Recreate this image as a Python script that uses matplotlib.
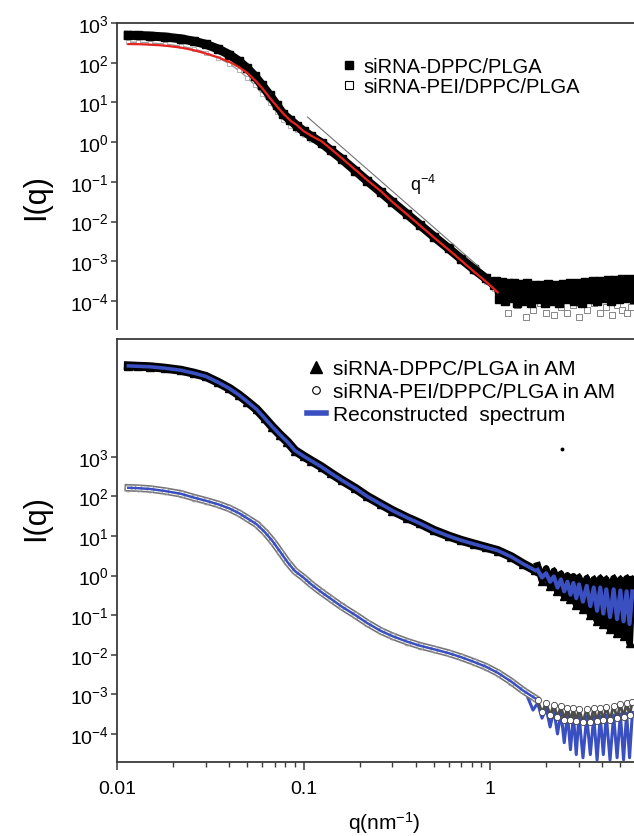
import matplotlib
matplotlib.use("Agg")
import matplotlib.pyplot as plt
from matplotlib.lines import Line2D
from matplotlib.ticker import NullLocator, FixedLocator, LogLocator, NullFormatter

plt.rcParams['font.family'] = ['Liberation Sans', 'DejaVu Sans']
plt.rcParams['mathtext.default'] = 'regular'

# ---- top panel: siRNA-DPPC/PLGA vs siRNA-PEI/DPPC/PLGA ----
q_top = [0.0115, 0.013, 0.015, 0.018, 0.022, 0.026, 0.03, 0.035, 0.04, 0.045,
         0.05, 0.055, 0.06, 0.066, 0.072, 0.078, 0.085, 0.092, 0.1, 0.11,
         0.125, 0.14, 0.16, 0.19, 0.22, 0.26, 0.3, 0.36, 0.42, 0.5,
         0.6, 0.7, 0.82, 0.95, 1.05]
dppc_I = [490, 485, 470, 445, 400, 345, 290, 220, 160, 110,
          72, 45, 27, 15, 8.5, 5.0, 3.6, 2.6, 1.9, 1.4,
          0.95, 0.62, 0.38, 0.19, 0.105, 0.055, 0.031, 0.0152, 0.0083, 0.0042,
          0.0021, 0.00115, 0.00063, 0.00037, 0.00026]
pei_I = [330, 326, 315, 295, 262, 222, 180, 132, 94, 64,
         42, 27, 16.5, 9.5, 5.6, 3.7, 2.6, 2.0, 1.5, 1.15,
         0.8, 0.55, 0.34, 0.17, 0.095, 0.05, 0.028, 0.0138, 0.0076, 0.0038,
         0.0019, 0.00102, 0.00055, 0.0003, 0.0002]
fit_top_q = [0.0115, 0.013, 0.015, 0.018, 0.022, 0.026, 0.03, 0.035, 0.04, 0.045,
             0.05, 0.055, 0.06, 0.066, 0.072, 0.078, 0.085, 0.092, 0.1, 0.11,
             0.125, 0.14, 0.16, 0.19, 0.22, 0.26, 0.3, 0.36, 0.42, 0.5,
             0.6, 0.7, 0.82, 0.95, 1.1]
fit_top_I = [295, 293, 285, 270, 240, 205, 170, 135, 105, 78,
             55, 36, 23, 13, 8, 5.2, 3.5, 2.7, 1.9, 1.45,
             1.05, 0.68, 0.40, 0.20, 0.11, 0.058, 0.031, 0.015, 0.0081, 0.0040,
             0.00195, 0.00105, 0.00055, 0.00031, 0.000165]
# flat background at high q (noisy)
floor_q = [1.08, 1.12, 1.16, 1.2, 1.25, 1.3, 1.35, 1.4, 1.46, 1.52,
           1.58, 1.65, 1.72, 1.8, 1.88, 1.96, 2.05, 2.15, 2.25, 2.35,
           2.46, 2.58, 2.7, 2.83, 2.96, 3.1, 3.25, 3.4, 3.56, 3.73,
           3.9, 4.08, 4.27, 4.47, 4.68, 4.9, 5.13, 5.37, 5.62, 5.88]
floor_dppc_I = [3.2e-4, 1.1e-4, 3.0e-4, 1.0e-4, 2.9e-4, 1.2e-4, 2.8e-4, 0.9e-4, 2.7e-4, 1.0e-4,
                2.8e-4, 0.9e-4, 2.6e-4, 1.1e-4, 2.6e-4, 0.9e-4, 2.7e-4, 1.0e-4, 2.6e-4, 0.9e-4,
                2.7e-4, 1.1e-4, 2.8e-4, 1.0e-4, 2.9e-4, 0.9e-4, 3.0e-4, 1.1e-4, 3.1e-4, 1.0e-4,
                3.2e-4, 1.2e-4, 3.3e-4, 1.0e-4, 3.4e-4, 1.1e-4, 3.5e-4, 1.2e-4, 3.6e-4, 1.1e-4]
floor_pei_q = [1.25, 1.4, 1.55, 1.7, 1.85, 2.0, 2.2, 2.4, 2.6, 2.8,
               3.0, 3.3, 3.6, 3.9, 4.2, 4.5, 4.8, 5.1, 5.4, 5.7]
floor_pei_I = [5e-5, 8e-5, 4e-5, 6e-5, 9e-5, 5e-5, 4.5e-5, 7e-5, 5e-5, 8e-5,
               4e-5, 6e-5, 9e-5, 5e-5, 7e-5, 4.5e-5, 8e-5, 6e-5, 5e-5, 7e-5]
guide_q = [0.105, 0.88]
guide_I = [4.3, 7.0e-4]

# ---- bottom panel: in artificial mucus (AM) ----
q_am = [0.0115, 0.013, 0.015, 0.018, 0.022, 0.026, 0.03, 0.035, 0.04, 0.045,
        0.05, 0.056, 0.062, 0.068, 0.075, 0.082, 0.09, 0.1, 0.11, 0.125,
        0.14, 0.16, 0.19, 0.22, 0.26, 0.3, 0.36, 0.42, 0.5, 0.6,
        0.7, 0.82, 0.95, 1.1, 1.3, 1.5, 1.75]
am_dppc_I = [2.0e5, 1.95e5, 1.9e5, 1.75e5, 1.55e5, 1.3e5, 1.08e5, 7.6e4, 5.4e4, 3.7e4,
             2.5e4, 1.6e4, 9.5e3, 5.8e3, 3.6e3, 2.4e3, 1.45e3, 1.05e3, 800, 560,
             390, 260, 160, 100, 64, 44, 29, 21, 14, 10,
             7.8, 6.3, 5.2, 4.3, 3.0, 2.0, 1.35]
am_pei_I = [166, 162, 155, 138, 117, 93, 78, 63, 50, 38,
            28, 20, 12.6, 7.6, 4.0, 2.2, 1.3, 0.89, 0.6, 0.38,
            0.26, 0.166, 0.1, 0.063, 0.04, 0.0295, 0.0214, 0.017, 0.0138, 0.011,
            0.0087, 0.0066, 0.005, 0.0035, 0.0021, 0.00126, 0.00079]
noise_q = [1.8, 1.9, 2.0, 2.1, 2.2, 2.3, 2.4, 2.5, 2.6, 2.7,
           2.8, 2.9, 3.0, 3.15, 3.3, 3.45, 3.6, 3.75, 3.9, 4.05,
           4.2, 4.4, 4.6, 4.8, 5.0, 5.2, 5.4, 5.6, 5.8]
noise_dppc_I = [1.8, 0.75, 1.5, 0.55, 1.3, 0.4, 1.1, 0.3, 1.0, 0.25,
                0.95, 0.18, 0.9, 0.14, 0.85, 0.1, 0.8, 0.07, 0.85, 0.06,
                0.8, 0.045, 0.85, 0.035, 0.8, 0.03, 0.85, 0.02, 0.8]
noise_dppc_fit = [1.4, 0.9, 1.15, 0.7, 0.95, 0.5, 0.8, 0.4, 0.7, 0.33,
                  0.65, 0.27, 0.6, 0.22, 0.55, 0.17, 0.5, 0.13, 0.5, 0.11,
                  0.45, 0.09, 0.45, 0.08, 0.42, 0.07, 0.4, 0.06, 0.4]
noise_pei_I = [7e-4, 3.5e-4, 6e-4, 3e-4, 5.5e-4, 2.6e-4, 5e-4, 2.3e-4, 4.6e-4, 2.2e-4,
               4.4e-4, 2.1e-4, 4.3e-4, 2e-4, 4.3e-4, 2e-4, 4.4e-4, 2.1e-4, 4.6e-4, 2.2e-4,
               4.8e-4, 2.3e-4, 5.2e-4, 2.5e-4, 5.6e-4, 2.7e-4, 6e-4, 3e-4, 6.5e-4]
noise_fit_q = [1.6, 1.7, 1.8, 1.9, 2.0, 2.1, 2.2, 2.3, 2.4, 2.5,
               2.6, 2.7, 2.8, 2.9, 3.0, 3.15, 3.3, 3.45, 3.6, 3.75,
               3.9, 4.05, 4.2, 4.4, 4.6, 4.8, 5.0, 5.2, 5.4, 5.6, 5.8]
noise_pei_fit = [8e-4, 4e-4, 6e-4, 2.5e-4, 4.5e-4, 1.5e-4, 4e-4, 1e-4, 3.5e-4, 6e-5,
                 3.2e-4, 4e-5, 3e-4, 3e-5, 3e-4, 2.5e-5, 2.8e-4, 3e-5, 2.8e-4, 2.2e-5,
                 2.8e-4, 3e-5, 3e-4, 2.2e-5, 3e-4, 2.5e-5, 3.2e-4, 2.2e-5, 3.3e-4, 2.5e-5, 3.5e-4]
stray_q = [2.43]
stray_I = [1600]

RED = '#e8231f'
BLUE = '#3a4fc0'
SPINE = '#3a3a3a'
XMAX = 10 ** 0.772


def style_axes(ax, ymin, ymax, yticks):
    ax.set_xscale('log')
    ax.set_yscale('log')
    ax.set_xlim(0.01, XMAX)
    ax.set_ylim(ymin, ymax)
    ax.yaxis.set_major_locator(FixedLocator(yticks))
    ax.yaxis.set_minor_locator(NullLocator())
    for side in ['left', 'top', 'bottom']:
        ax.spines[side].set_color(SPINE)
        ax.spines[side].set_linewidth(1.3)
    ax.spines['right'].set_visible(False)
    ax.tick_params(axis='y', which='major', direction='out', length=4, width=1.1,
                   color=SPINE, labelsize=14, pad=2)


fig = plt.figure(figsize=(6.34, 8.37), dpi=100)
W, H = 634.0, 837.0
ax1 = fig.add_axes([117 / W, 1 - 330 / H, 1 - 117 / W, (330 - 24) / H])
ax2 = fig.add_axes([117 / W, 1 - 763 / H, 1 - 117 / W, (763 - 340) / H])

# top panel
style_axes(ax1, 10 ** -4.705, 1e3, [1e-4, 1e-3, 1e-2, 1e-1, 1, 10, 100, 1000])
ax1.spines['bottom'].set_visible(False)
ax1.tick_params(axis='x', which='both', bottom=False, labelbottom=False)

ax1.plot(q_top, pei_I, '-', color='0.6', lw=1.0, zorder=2)
ax1.plot(q_top, pei_I, 's', mfc='white', mec='0.6', ms=3, mew=0.5, zorder=2)
ax1.plot(floor_pei_q, floor_pei_I, 's', mfc='white', mec='0.45', ms=4, mew=0.6, zorder=2)
ax1.plot(q_top, dppc_I, '-', color='black', lw=6.5, zorder=3)
ax1.plot(q_top, dppc_I, 's', color='black', ms=6, zorder=3)
ax1.plot(floor_q, floor_dppc_I, '-', color='black', lw=5, zorder=3)
ax1.plot(floor_q, floor_dppc_I, 's', color='black', ms=5.5, zorder=3)
ax1.plot(fit_top_q, fit_top_I, '-', color=RED, lw=1.6, zorder=4)
ax1.plot(guide_q, guide_I, '-', color='0.45', lw=0.8, zorder=4)
ax1.text(0.437, 0.087, r'q$^{-4}$', fontsize=13, ha='center', va='center')

h1 = [Line2D([], [], ls='none', marker='s', color='black', ms=6),
      Line2D([], [], ls='none', marker='s', mfc='white', mec='black', ms=6, mew=0.8)]
ax1.legend(h1, ['siRNA-DPPC/PLGA', 'siRNA-PEI/DPPC/PLGA'], loc='upper left',
           bbox_to_anchor=(343 / W, 1 - 58 / H), bbox_transform=fig.transFigure,
           frameon=False, fontsize=14.5, handlelength=0.6, handletextpad=0.4,
           labelspacing=0.05, borderpad=0, borderaxespad=0)

# bottom panel
style_axes(ax2, 10 ** -4.71, 10 ** 5.98, [1e-4, 1e-3, 1e-2, 1e-1, 1, 10, 100, 1000])
ax2.xaxis.set_major_locator(FixedLocator([0.01, 0.1, 1]))
ax2.set_xticklabels(['0.01', '0.1', '1'])
ax2.xaxis.set_minor_locator(LogLocator(base=10, subs=range(2, 10)))
ax2.xaxis.set_minor_formatter(NullFormatter())
ax2.tick_params(axis='x', which='major', direction='out', length=6, width=1.1,
                color=SPINE, labelsize=14, pad=7)
ax2.tick_params(axis='x', which='minor', direction='out', length=3.5, width=1.0,
                color=SPINE)

# siRNA-DPPC/PLGA in AM
ax2.plot(q_am, am_dppc_I, '-', color='black', lw=6.5, zorder=3)
ax2.plot(q_am, am_dppc_I, '^', color='black', ms=6, zorder=3)
ax2.plot(noise_q, noise_dppc_I, '-', color='black', lw=5, zorder=3)
ax2.plot(noise_q, noise_dppc_I, '^', color='black', ms=5.5, zorder=3)
ax2.plot(stray_q, stray_I, 'o', color='black', ms=1.8, zorder=3)
ax2.plot(q_am, am_dppc_I, '-', color=BLUE, lw=2.6, zorder=4)
ax2.plot(noise_q, noise_dppc_fit, '-', color=BLUE, lw=3, zorder=4)

# siRNA-PEI/DPPC/PLGA in AM
ax2.plot(q_am, am_pei_I, '-', color='0.45', lw=5.5, zorder=3)
ax2.plot(q_am, am_pei_I, '-', color='white', lw=3.2, zorder=3)
ax2.plot(q_am, am_pei_I, 'o', mfc='none', mec='0.6', ms=5, mew=0.6, zorder=3)
ax2.plot(noise_q, noise_pei_I, '-', color='0.3', lw=2, zorder=3)
ax2.plot(noise_q, noise_pei_I, 'o', mfc='white', mec='0.25', ms=4.5, mew=0.6, zorder=3)
ax2.plot(q_am, am_pei_I, '-', color=BLUE, lw=1.8, zorder=4)
ax2.plot(noise_fit_q, noise_pei_fit, '-', color=BLUE, lw=2.2, zorder=2)

h2 = [Line2D([], [], ls='none', marker='^', color='black', ms=8),
      Line2D([], [], ls='none', marker='o', mfc='white', mec='black', ms=5.5, mew=0.8),
      Line2D([], [], ls='-', color=BLUE, lw=4)]
ax2.legend(h2, ['siRNA-DPPC/PLGA in AM', 'siRNA-PEI/DPPC/PLGA in AM',
                'Reconstructed  spectrum'], loc='upper left',
           bbox_to_anchor=(307 / W, 1 - 360 / H), bbox_transform=fig.transFigure,
           frameon=False, fontsize=15, handlelength=0.9, handletextpad=0.35,
           labelspacing=0.2, borderpad=0, borderaxespad=0)

fig.text(36 / W, 1 - 197 / H, 'I(q)', rotation=90, fontsize=22, ha='center', va='center')
fig.text(36 / W, 1 - 518 / H, 'I(q)', rotation=90, fontsize=22, ha='center', va='center')
fig.text(384 / W, 1 - 823 / H, r'q(nm$^{-1}$)', fontsize=15, ha='center', va='center')

fig.savefig('out.png', dpi=100)
